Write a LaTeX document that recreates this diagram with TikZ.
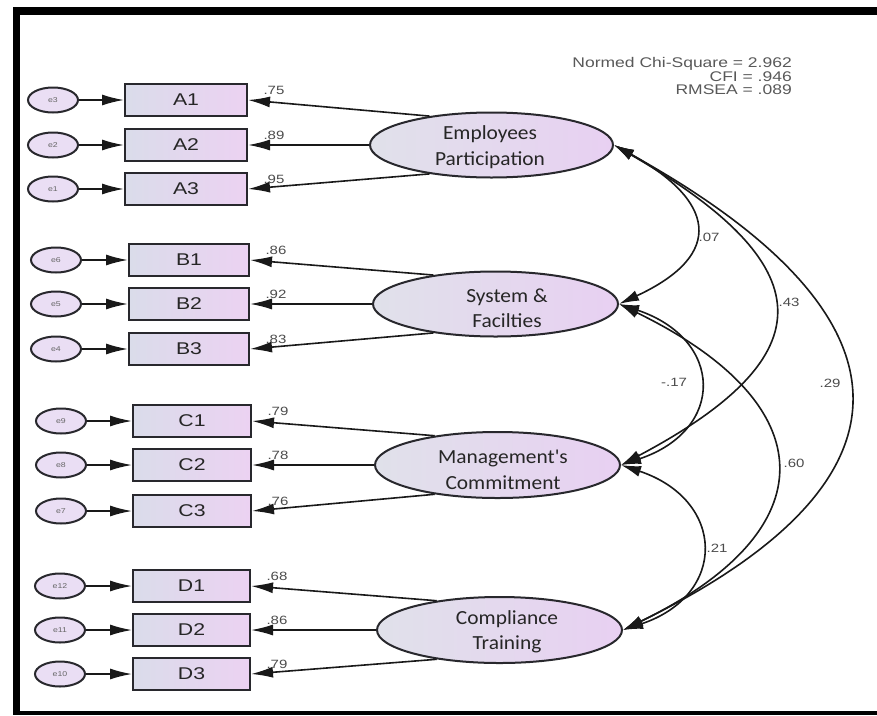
\documentclass[tikz,border=0pt]{standalone}
\usepackage{fontspec}
\setmainfont{Liberation Sans}
\newfontfamily\amosfont[FakeStretch=1.25]{Liberation Sans}
\newfontfamily\calfont[FakeStretch=1.07]{Carlito}
\usetikzlibrary{arrows.meta,shapes.geometric}
\definecolor{obsL}{RGB}{218,220,234}
\definecolor{obsR}{RGB}{236,210,242}
\definecolor{latL}{RGB}{224,225,234}
\definecolor{latR}{RGB}{232,208,242}
\definecolor{errF}{RGB}{234,222,244}
\definecolor{edge}{RGB}{40,40,45}
\tikzset{
  obs/.style={rectangle, draw=edge, line width=2pt, minimum height=32pt, inner sep=0pt,
    left color=obsL, right color=obsR, font=\amosfont\fontsize{17}{18}\selectfont, text=black!85},
  errc/.style={ellipse, draw=edge, line width=2pt, minimum width=50pt, minimum height=25pt,
    inner sep=0pt, fill=errF, font=\amosfont\fontsize{7}{8}\selectfont, text=black!60},
  lat/.style={ellipse, draw=edge, line width=2pt, minimum width=245pt, minimum height=65pt,
    inner sep=0pt, left color=latL, right color=latR},
  lattext/.style={align=center, inner sep=0pt, font=\calfont\fontsize{20}{25.5}\selectfont, text=black!85},
  arr/.style={-{Latex[length=22pt,width=11pt]}, line width=1.6pt, draw=black!90},
  cov/.style={{Latex[length=20pt,width=11pt]}-{Latex[length=20pt,width=11pt]}, line width=1.6pt, draw=black!90},
  lbl/.style={font=\amosfont\fontsize{12}{14}\selectfont, text=black!70, inner sep=0pt},
}
\begin{document}
\begin{tikzpicture}[x=1pt,y=-1pt]
\useasboundingbox (0,0) rectangle (877,715);
\fill[white] (0,0) rectangle (877,715);
% frame
\fill[black] (13,7) rectangle (877,15);
\fill[black] (13,7) rectangle (20,715);
\fill[black] (13,711) rectangle (877,715);

% fit indices
\node[anchor=east, align=right, inner sep=0pt, font=\amosfont\fontsize{14}{13.5}\selectfont, text=black!65]
  (fit) at (792,76) {Normed Chi-Square = 2.962\\CFI = .946\\RMSEA = .089};

% latent variables
\node[lat, minimum width=243pt] (EP) at (491.5,145) {};
\node[lat] (SF) at (495.5,304) {};
\node[lat, minimum height=66pt] (MC) at (497.5,465) {};
\node[lat, minimum height=66pt] (CT) at (499.5,630) {};
\node[lattext] (EPt) at (490,147) {Employees\\Participation};
\node[lattext] (SFt) at (507,308) {System \&\\Facilties};
\node[lattext] (MCt) at (503,470) {Management's\\Commitment};
\node[lattext] (CTt) at (507,632) {Compliance\\Training};

% observed variables and errors
\foreach \nm/\ex/\cx/\rx/\rw/\yy/\lv/\lat/\ang in {
  A1/e3/53/186/122/100/.75/EP/155, A2/e2/53/186/122/145/.89/EP/180, A3/e1/53/186/122/189/.95/EP/205,
  B1/e6/56/189/120/260/.86/SF/155, B2/e5/56/189/120/304/.92/SF/180, B3/e4/56/189/120/349/.83/SF/205,
  C1/e9/61/192/118/421/.79/MC/155, C2/e8/61/192/118/465/.78/MC/180, C3/e7/61/192/118/511/.76/MC/205,
  D1/e12/60/191.5/117/586/.68/CT/155, D2/e11/60/191.5/117/630/.86/CT/180, D3/e10/60/191.5/117/674/.79/CT/205}{
  \node[obs, minimum width=\rw pt] (\nm) at (\rx,\yy) {\nm};
  \node[errc] (\ex) at (\cx,\yy) {\ex};
  \draw[arr] (\ex) -- (\nm);
  \draw[arr] (\lat.\ang) -- (\nm.east);
  \node[lbl] (l\nm) at ([xshift=26pt,yshift=10pt]\nm.east) {\lv};
}

% covariances
\draw[cov] (EP.east) .. controls +(100,55) and +(108,-50) .. (SF.east);
\draw[cov] (EP.east) .. controls +(208,120) and +(208,-110) .. (MC.east);
\draw[cov] (EP.east) .. controls +(307,170) and +(307,-150) .. (CT.east);
\draw[cov] (SF.east) .. controls +(105,35) and +(105,-35) .. (MC.east);
\draw[cov] (SF.east) .. controls +(206,100) and +(206,-100) .. (CT.east);
\draw[cov] (MC.east) .. controls +(105,35) and +(105,-35) .. (CT.east);

\node[lbl] (c1) at (709,237) {.07};
\node[lbl] (c2) at (789,302) {.43};
\node[lbl] (c3) at (674,382) {-.17};
\node[lbl] (c4) at (830,383) {.29};
\node[lbl] (c5) at (794,463) {.60};
\node[lbl] (c6) at (717,548) {.21};
\end{tikzpicture}
\end{document}
